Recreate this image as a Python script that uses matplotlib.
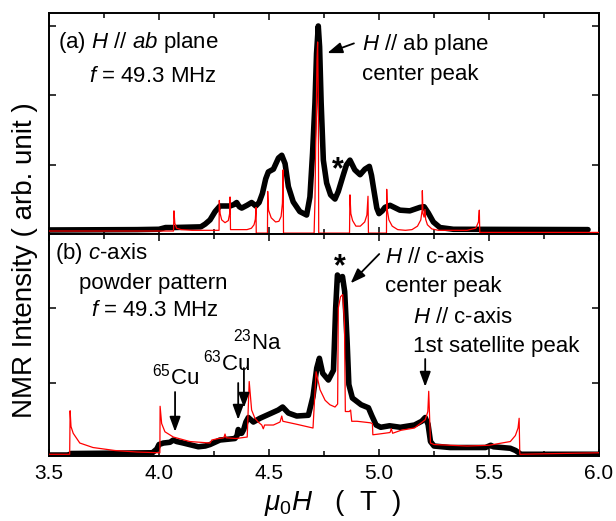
import matplotlib
matplotlib.use('Agg')
import matplotlib.pyplot as plt
from matplotlib.ticker import MultipleLocator, FormatStrFormatter

plt.rcParams['font.family'] = ['Liberation Sans', 'DejaVu Sans']
plt.rcParams['mathtext.fontset'] = 'custom'
plt.rcParams['mathtext.rm'] = 'Liberation Sans'
plt.rcParams['mathtext.it'] = 'Liberation Sans:italic'
plt.rcParams['mathtext.bf'] = 'Liberation Sans:bold'

# ---------------- data ----------------
# (a) H // ab plane : experiment (black)
top_exp_H = [3.50, 3.90, 4.00, 4.03, 4.065, 4.19, 4.21, 4.232, 4.255, 4.277, 4.30, 4.323,
             4.340, 4.353, 4.365, 4.376, 4.40, 4.421, 4.44, 4.455, 4.47, 4.485, 4.497,
             4.52, 4.543, 4.558, 4.573, 4.588, 4.61, 4.64, 4.671, 4.686, 4.698, 4.709,
             4.716, 4.724, 4.730, 4.737, 4.747, 4.762, 4.78, 4.80, 4.815, 4.838, 4.852,
             4.868, 4.89, 4.914, 4.936, 4.956, 4.966, 4.974, 4.99, 5.00, 5.015, 5.027,
             5.05, 5.095, 5.14, 5.186, 5.205, 5.224, 5.247, 5.277, 5.338, 5.95]
top_exp_I = [0.065, 0.07, 0.075, 0.10, 0.10, 0.11, 0.15, 0.21, 0.33, 0.41, 0.41, 0.41,
             0.43, 0.46, 0.40, 0.38, 0.42, 0.46, 0.41, 0.46, 0.59, 0.80, 0.90,
             0.94, 1.10, 1.14, 1.02, 0.69, 0.47, 0.33, 0.28, 0.54, 1.17, 1.90,
             2.60, 3.00, 2.70, 1.90, 1.07, 0.74, 0.57, 0.51, 0.62, 0.86, 1.00,
             1.07, 0.93, 0.86, 0.94, 0.98, 0.85, 0.69, 0.38, 0.30, 0.34, 0.39,
             0.42, 0.35, 0.34, 0.39, 0.40, 0.31, 0.18, 0.10, 0.075, 0.07]

# (a) simulation (red)
top_sim_H = [3.50, 4.066, 4.068, 4.072, 4.08, 4.10, 4.15, 4.273, 4.274, 4.278, 4.285, 4.30,
             4.315, 4.321, 4.323, 4.325, 4.40, 4.42, 4.432, 4.438, 4.441, 4.442, 4.493,
             4.494, 4.498, 4.51, 4.53, 4.545, 4.555, 4.561, 4.564, 4.566, 4.705, 4.709,
             4.712, 4.715, 4.718, 4.721, 4.724, 4.726, 4.866, 4.868, 4.872, 4.88, 4.895,
             4.915, 4.935, 4.945, 4.950, 4.952, 5.034, 5.035, 5.038, 5.045, 5.06, 5.085,
             5.12, 5.15, 5.175, 5.19, 5.196, 5.197, 5.200, 5.205, 5.209, 5.212, 5.22,
             5.24, 5.27, 5.40, 5.44, 5.452, 5.456, 5.458, 6.00]
top_sim_I = [0.05, 0.05, 0.34, 0.16, 0.09, 0.07, 0.06, 0.06, 0.49, 0.30, 0.21, 0.17,
             0.20, 0.30, 0.54, 0.07, 0.07, 0.09, 0.14, 0.22, 0.39, 0.02, 0.02,
             0.62, 0.35, 0.24, 0.18, 0.19, 0.26, 0.45, 0.93, 0.02, 0.02, 0.50,
             1.22, 1.70, 2.50, 2.77, 2.00, 0.02, 0.02, 0.57, 0.30, 0.20, 0.12,
             0.12, 0.18, 0.28, 0.55, 0.02, 0.02, 0.65, 0.35, 0.21, 0.12, 0.07,
             0.06, 0.07, 0.12, 0.21, 0.35, 0.63, 0.30, 0.25, 0.36, 0.22, 0.14,
             0.08, 0.06, 0.06, 0.09, 0.18, 0.35, 0.03, 0.03]

# (b) c-axis powder pattern : experiment (black)
bot_exp_H = [3.50, 3.59, 3.60, 3.97, 3.99, 4.00, 4.02, 4.05, 4.065, 4.08, 4.11, 4.179,
             4.21, 4.232, 4.277, 4.345, 4.355, 4.36, 4.368, 4.376, 4.385, 4.395, 4.406,
             4.429, 4.459, 4.512, 4.542, 4.562, 4.588, 4.626, 4.679, 4.70, 4.717, 4.729,
             4.744, 4.77, 4.793, 4.803, 4.811, 4.823, 4.834, 4.844, 4.855, 4.863, 4.879,
             4.919, 4.952, 4.968, 4.987, 5.008, 5.048, 5.097, 5.161, 5.194, 5.21, 5.223,
             5.234, 5.25, 5.323, 5.484, 5.508, 5.52, 5.597, 5.621, 5.645, 6.00]
bot_exp_I = [0.04, 0.04, 0.06, 0.07, 0.12, 0.18, 0.20, 0.21, 0.24, 0.22, 0.20, 0.15,
             0.16, 0.18, 0.24, 0.26, 0.30, 0.38, 0.33, 0.33, 0.38, 0.48, 0.54,
             0.48, 0.53, 0.60, 0.64, 0.68, 0.60, 0.56, 0.57, 0.82, 1.20, 1.33,
             1.13, 1.04, 1.17, 2.00, 2.44, 2.38, 2.42, 2.22, 1.56, 0.98, 0.80,
             0.71, 0.67, 0.56, 0.44, 0.41, 0.43, 0.41, 0.44, 0.49, 0.54, 0.45,
             0.22, 0.16, 0.14, 0.14, 0.17, 0.15, 0.13, 0.10, 0.05, 0.05]

# (b) simulation (red)
bot_sim_H = [3.50, 3.594, 3.596, 3.60, 3.61, 3.64, 3.70, 3.80, 3.90, 4.004, 4.005, 4.012,
             4.027, 4.065, 4.14, 4.232, 4.24, 4.27, 4.295, 4.30, 4.305, 4.35, 4.401,
             4.410, 4.421, 4.436, 4.451, 4.467, 4.474, 4.48, 4.52, 4.55, 4.558, 4.563,
             4.626, 4.70, 4.714, 4.732, 4.755, 4.777, 4.80, 4.812, 4.815, 4.825, 4.835,
             4.843, 4.847, 4.865, 4.871, 4.876, 4.90, 4.96, 4.970, 4.972, 5.00, 5.05,
             5.056, 5.062, 5.10, 5.161, 5.21, 5.222, 5.226, 5.234, 5.25, 5.40, 5.50,
             5.597, 5.62, 5.632, 5.637, 5.640, 6.00]
bot_sim_I = [0.05, 0.05, 0.63, 0.42, 0.33, 0.20, 0.14, 0.10, 0.08, 0.07, 0.69, 0.46,
             0.35, 0.28, 0.22, 0.20, 0.24, 0.26, 0.27, 0.32, 0.27, 0.26, 0.28,
             1.02, 0.64, 0.53, 0.48, 0.44, 0.39, 0.44, 0.44, 0.48, 0.56, 0.49,
             0.45, 0.40, 1.15, 0.91, 0.77, 0.71, 0.68, 0.72, 2.00, 2.15, 2.18,
             1.80, 0.62, 0.62, 0.64, 0.49, 0.49, 0.47, 0.46, 0.31, 0.32, 0.34,
             0.39, 0.33, 0.37, 0.40, 0.51, 0.62, 0.89, 0.20, 0.18, 0.16, 0.17,
             0.22, 0.30, 0.40, 0.53, 0.05, 0.07]

x_ticks = [3.5, 4.0, 4.5, 5.0, 5.5, 6.0]

# ---------------- figure ----------------
W, Hpx = 616, 521
fig = plt.figure(figsize=(W / 100, Hpx / 100), dpi=100)
ax1 = fig.add_axes([49 / W, 1 - 234 / Hpx, 550 / W, 221 / Hpx])
ax2 = fig.add_axes([49 / W, 1 - 456 / Hpx, 550 / W, 222 / Hpx])

for ax, eh, ei, sh, si in [(ax1, top_exp_H, top_exp_I, top_sim_H, top_sim_I),
                           (ax2, bot_exp_H, bot_exp_I, bot_sim_H, bot_sim_I)]:
    ax.plot(eh, ei, color='black', lw=4.0, solid_joinstyle='round',
            solid_capstyle='round', zorder=2)
    ax.plot(sh, si, color='#ff0000', lw=0.9, zorder=3)
    ax.set_xlim(3.5, 6.0)
    ax.xaxis.set_major_locator(MultipleLocator(0.5))
    ax.xaxis.set_minor_locator(MultipleLocator(0.25))
    ax.yaxis.set_major_locator(MultipleLocator(1))
    ax.tick_params(which='both', direction='in', top=True, right=True,
                   labelleft=False, width=1.1)
    ax.tick_params(which='major', length=5)
    ax.tick_params(which='minor', length=3.5)
    for s in ax.spines.values():
        s.set_linewidth(1.4)

ax1.set_ylim(0.007, 3.187)
ax2.set_ylim(0.027, 2.987)
ax1.tick_params(labelbottom=False)
ax2.set_xticks(x_ticks)
ax2.xaxis.set_major_formatter(FormatStrFormatter('%.1f'))
ax2.tick_params(axis='x', labelsize=15, pad=6)

fs = 16
arrow = dict(arrowstyle='-|>,head_length=0.6,head_width=0.22', color='black',
             lw=1.3, mutation_scale=15, shrinkA=0, shrinkB=0)

# panel (a) texts
ax1.text(3.541, 2.76, '(a) $H$ // $ab$ plane', fontsize=fs, ha='left', va='center')
ax1.text(3.682, 2.27, '$f$ = 49.3 MHz', fontsize=fs, ha='left', va='center')
ax1.text(4.921, 2.73, '$H$ // ab plane', fontsize=fs, ha='left', va='center')
ax1.text(4.921, 2.30, 'center peak', fontsize=fs, ha='left', va='center')
ax1.annotate('', xy=(4.765, 2.61), xytext=(4.886, 2.75), arrowprops=arrow)
ax1.text(4.815, 0.93, '*', fontsize=22, fontweight='bold', ha='center', va='center')

# panel (b) texts
ax2.text(3.527, 2.73, '(b) $c$-axis', fontsize=fs, ha='left', va='center')
ax2.text(3.636, 2.33, 'powder pattern', fontsize=fs, ha='left', va='center')
ax2.text(3.691, 1.97, '$f$ = 49.3 MHz', fontsize=fs, ha='left', va='center')
ax2.text(5.027, 2.68, '$H$ // c-axis', fontsize=fs, ha='left', va='center')
ax2.text(5.027, 2.29, 'center peak', fontsize=fs, ha='left', va='center')
ax2.text(5.153, 1.87, '$H$ // c-axis', fontsize=fs, ha='left', va='center')
ax2.text(5.153, 1.49, '1st satellite peak', fontsize=fs, ha='left', va='center')
ax2.annotate('', xy=(4.871, 2.33), xytext=(5.001, 2.72), arrowprops=arrow)
ax2.annotate('', xy=(5.21, 0.95), xytext=(5.21, 1.32), arrowprops=arrow)
ax2.text(4.822, 2.55, '*', fontsize=22, fontweight='bold', ha='center', va='center')

ax2.text(3.968, 1.08, r'$^{65}$Cu', fontsize=fs, ha='left', va='center')
ax2.text(4.200, 1.27, r'$^{63}$Cu', fontsize=fs, ha='left', va='center')
ax2.text(4.336, 1.55, r'$^{23}$Na', fontsize=fs, ha='left', va='center')
ax2.annotate('', xy=(4.073, 0.35), xytext=(4.073, 0.88), arrowprops=arrow)
ax2.annotate('', xy=(4.360, 0.51), xytext=(4.360, 1.00), arrowprops=arrow)
ax2.annotate('', xy=(4.386, 0.67), xytext=(4.386, 1.20), arrowprops=arrow)

# axis labels
fig.text(333 / W, 1 - 503 / Hpx, r'$\mu_0H$   (  T  )', fontsize=20, ha='center', va='center')
fig.text(25 / W, 1 - 260 / Hpx, 'NMR Intensity ( arb. unit )', fontsize=20,
         rotation=90, ha='center', va='center')

fig.savefig('out.png', dpi=100)
